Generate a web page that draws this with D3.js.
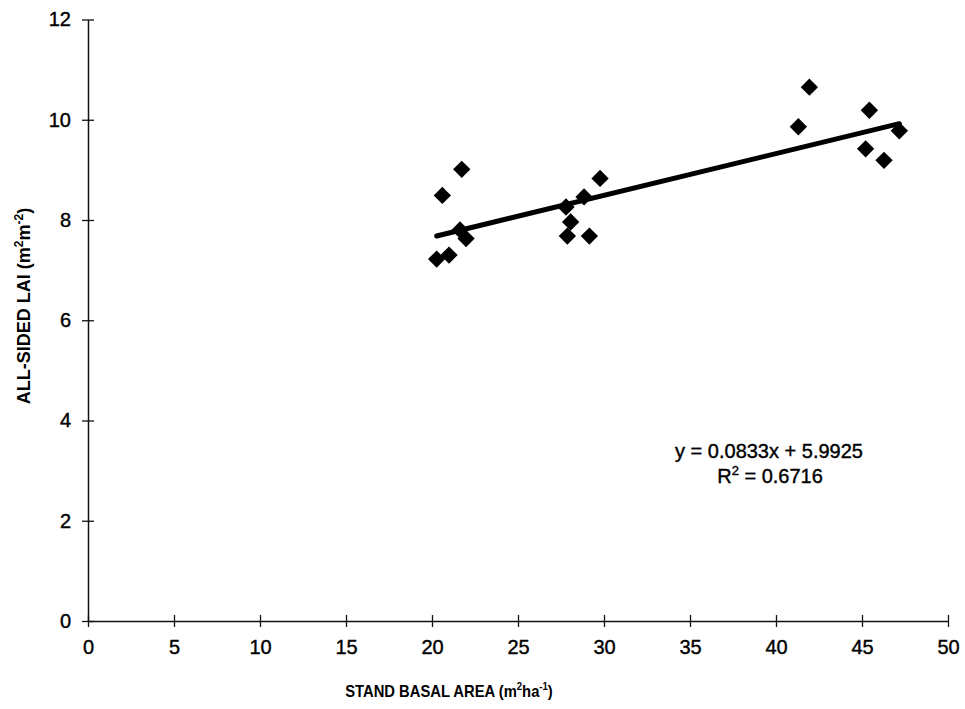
<!DOCTYPE html>
<html>
<head>
<meta charset="utf-8">
<script src="https://cdn.jsdelivr.net/npm/d3@7"></script>
<style>
  html, body { margin: 0; padding: 0; background: #fff; }
  svg { display: block; }
  text { font-family: "Liberation Sans", Arial, sans-serif; fill: #000; }
</style>
</head>
<body>
<svg id="chart" width="965" height="709"></svg>
<script>
// Stand basal area (m2/ha) against all-sided leaf area index (m2/m2)
const basalArea = [20.27, 20.99, 20.60, 21.73, 21.63, 21.98,
                   27.79, 27.87, 28.06, 28.84, 29.15, 29.77,
                   41.30, 41.94, 45.21, 45.43, 46.28, 47.17];
const lai       = [7.22, 7.30, 8.49, 9.01, 7.80, 7.63,
                   8.26, 7.68, 7.96, 8.46, 7.68, 8.83,
                   9.86, 10.65, 9.42, 10.19, 9.19, 9.78];
const xTicks = [0, 5, 10, 15, 20, 25, 30, 35, 40, 45, 50];
const yTicks = [0, 2, 4, 6, 8, 10, 12];
const slope = 0.0833, intercept = 5.9925, rSquared = 0.6716;

const svg = d3.select("#chart");
const margin = { left: 88, right: 17, top: 19.5, bottom: 88 };
const W = 965, H = 709;

const x = d3.scaleLinear().domain([0, 50]).range([margin.left, W - margin.right]);
const y = d3.scaleLinear().domain([0, 12]).range([H - margin.bottom, margin.top]);

// Axes with ticks that cross the axis line
const xAxis = svg.append("g")
  .attr("transform", `translate(0,${y(0)})`)
  .call(d3.axisBottom(x).tickValues(xTicks).tickSize(6).tickPadding(13).tickSizeOuter(0));
xAxis.selectAll(".tick line").attr("y1", -6).attr("y2", 6);

const yAxis = svg.append("g")
  .attr("transform", `translate(${x(0)},0)`)
  .call(d3.axisLeft(y).tickValues(yTicks).tickSize(6).tickPadding(11).tickSizeOuter(0));
yAxis.selectAll(".tick line").attr("x1", -6).attr("x2", 6);

[xAxis, yAxis].forEach(g => {
  g.select(".domain").attr("stroke", "#111").attr("stroke-width", 1.5);
  g.selectAll(".tick line").attr("stroke", "#111").attr("stroke-width", 1.3);
  g.selectAll(".tick text")
    .attr("font-family", "'Liberation Sans', Arial, sans-serif")
    .attr("font-size", 20).attr("fill", "#000")
    .attr("stroke", "#000").attr("stroke-width", 0.4);
});

// Axis titles (narrow bold lettering for the x title)
const xTitle = svg.append("text")
  .attr("transform", "translate(449,697) scale(0.87,1)")
  .attr("text-anchor", "middle")
  .attr("font-size", 17).attr("font-weight", "bold");
xTitle.append("tspan").text("STAND BASAL AREA (m");
xTitle.append("tspan").attr("dy", -7).attr("font-size", 11).text("2");
xTitle.append("tspan").attr("dy", 7).text("ha");
xTitle.append("tspan").attr("dy", -7).attr("font-size", 11).text("-1");
xTitle.append("tspan").attr("dy", 7).text(")");

const yTitle = svg.append("text")
  .attr("transform", "translate(30,306) rotate(-90)")
  .attr("text-anchor", "middle")
  .attr("font-size", 18).attr("font-weight", "bold");
yTitle.append("tspan").text("ALL-SIDED LAI (m");
yTitle.append("tspan").attr("dy", -7).attr("font-size", 12).text("2");
yTitle.append("tspan").attr("dy", 7).text("m");
yTitle.append("tspan").attr("dy", -7).attr("font-size", 12).text("-2");
yTitle.append("tspan").attr("dy", 7).text(")");

// Linear trend line over the observed range
const xMin = d3.min(basalArea), xMax = d3.max(basalArea);
svg.append("line")
  .attr("x1", x(xMin)).attr("y1", y(slope * xMin + intercept))
  .attr("x2", x(xMax)).attr("y2", y(slope * xMax + intercept))
  .attr("stroke", "#000").attr("stroke-width", 5).attr("stroke-linecap", "round");

// Diamond markers
const pts = basalArea.map((b, i) => ({ b, v: lai[i] }));
svg.append("g").selectAll("path").data(pts).join("path")
  .attr("d", d3.symbol().type(d3.symbolSquare).size(150))
  .attr("transform", d => `translate(${x(d.b)},${y(d.v)}) rotate(45)`)
  .attr("fill", "#000");

// Regression equation
svg.append("text")
  .attr("x", 769).attr("y", 458)
  .attr("text-anchor", "middle").attr("font-size", 20)
  .attr("stroke", "#000").attr("stroke-width", 0.4)
  .text(`y = ${slope.toFixed(4)}x + ${intercept.toFixed(4)}`);
const r2 = svg.append("text")
  .attr("x", 770).attr("y", 483)
  .attr("text-anchor", "middle").attr("font-size", 20)
  .attr("stroke", "#000").attr("stroke-width", 0.4);
r2.append("tspan").text("R");
r2.append("tspan").attr("dy", -8).attr("font-size", 13).text("2");
r2.append("tspan").attr("dy", 8).text(` = ${rSquared.toFixed(4)}`);
</script>
</body>
</html>
